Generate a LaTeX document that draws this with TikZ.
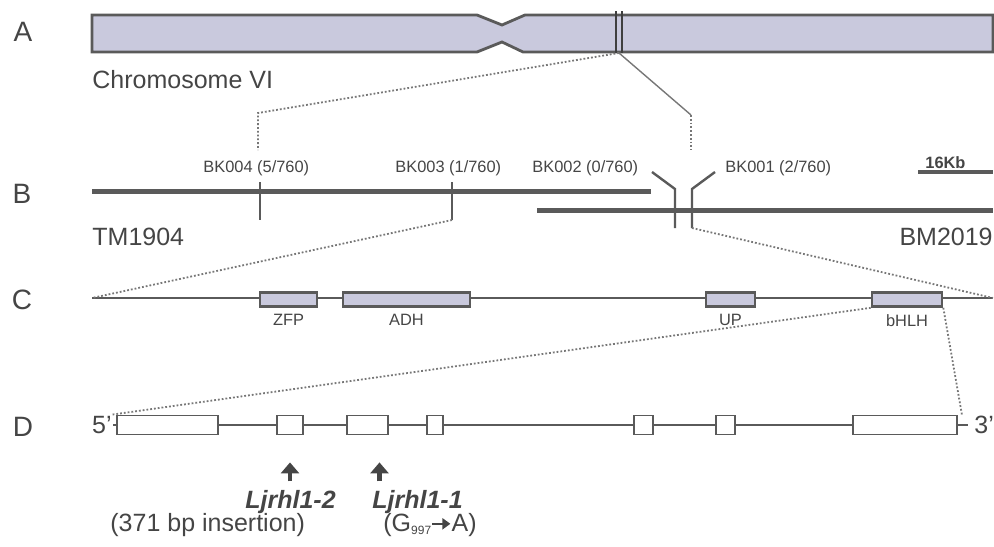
\documentclass[tikz,border=0pt]{standalone}
\usepackage{fontspec}
\setmainfont{Liberation Sans}
\usetikzlibrary{arrows.meta,positioning}
\definecolor{ink}{HTML}{454545}
\definecolor{linegray}{HTML}{5A5A5A}
\definecolor{chromfill}{HTML}{C9C9DD}
\definecolor{zoomgray}{HTML}{777777}

\begin{document}
\begin{tikzpicture}[x=0.5pt, y=-0.5pt,
  panel/.style={font=\fontsize{14}{16}\selectfont, text=ink},
  big/.style={font=\fontsize{12.5}{15}\selectfont, text=ink, inner sep=0pt},
  small/.style={font=\fontsize{8.2}{10}\selectfont, text=ink, inner sep=0pt},
  gene/.style={draw=linegray, fill=chromfill, line width=1.3pt, minimum height=7pt, inner sep=0pt},
  exon/.style={draw=linegray, fill=white, line width=0.9pt, minimum height=9.5pt, inner sep=0pt},
  tick/.style={linegray, line width=1.2pt},
  zoomline/.style={zoomgray, densely dotted, line width=0.9pt},
  mutarrow/.style={ink, line width=2.4pt, -{Triangle[width=9pt,length=5.5pt]}}]
\useasboundingbox (0,0) rectangle (994,546);
% panel letters
\node[panel] (pA) at (23,32) {A};
\node[panel] (pB) at (22,194) {B};
\node[panel] (pC) at (22,300) {C};
\node[panel] (pD) at (23,427) {D};
% A: chromosome
\draw[linegray, line width=1.4pt, fill=chromfill] (92,15) -- (477,15) -- (502,25) -- (525,15) -- (993,15)
  -- (993,52) -- (523,52) -- (502,42) -- (477,52) -- (92,52) -- cycle;
\draw[linegray!70!black, line width=1.2pt] (616,11) -- (616,53) (622,11) -- (622,53);
\coordinate (band) at (619,53);
\node[big, anchor=base west] (chr) at (92,88) {Chromosome VI};
% B: BAC contigs and markers
\draw[linegray, line width=2.5pt] (92,191) -- (651,191);
\draw[linegray, line width=2.5pt] (537,210) -- (993,210);
\node[big, anchor=base west] (tm) at (92,245) {TM1904};
\node[big, anchor=base east] (bm) at (993,245) {BM2019};
\node[small, anchor=base west] (bk4) at (203,172) {BK004 (5/760)};
\node[small, anchor=base west] (bk3) at (395,172) {BK003 (1/760)};
\node[small, anchor=base west] (bk2) at (532,172) {BK002 (0/760)};
\node[small, anchor=base west] (bk1) at (725,172) {BK001 (2/760)};
\draw[tick] (260,182) -- (260,220) coordinate (m4);
\draw[tick] (452,182) -- (452,220) coordinate (m3);
\draw[tick] (652,172) -- (675,189) -- (675,228) coordinate (m2);
\draw[tick] (715,172) -- (692,189) -- (692,228) coordinate (m1);
\node[small, font=\fontsize{8.2}{10}\selectfont\bfseries, anchor=base west] (kb) at (925,168) {16Kb};
\draw[linegray, line width=2pt] (918,172) -- (993,172);
% A -> B
\coordinate (zl) at (258,113);
\coordinate (zr) at (691,115);
\draw[zoomline] (band) -- (zl) -- (258,150);
\draw[zoomgray, line width=0.7pt] (band) -- (zr);
\draw[zoomline] (zr) -- (691,150);
% C: genes in the interval
\coordinate (cL) at (92,298);
\coordinate (cR) at (993,298);
\draw[linegray, line width=0.9pt] (cL) -- (cR);
\node[gene, minimum width=28.5pt] (zfp) at (288.5,299.5) {};
\node[gene, minimum width=63.5pt] (adh) at (406.5,299.5) {};
\node[gene, minimum width=24.5pt] (up) at (730.5,299.5) {};
\node[gene, minimum width=35pt] (bhlh) at (907,299.5) {};
\foreach \g/\t in {zfp/ZFP, adh/ADH, up/UP, bhlh/bHLH}
  \node[small, below=3pt of \g] (\g lbl) {\t};
\draw[zoomline] (m3) -- (cL);
\draw[zoomline] (m1) -- (cR);
% D: gene structure
\draw[linegray, line width=0.9pt] (113,425) -- (968,425);
\node[exon, minimum width=50.5pt] (e1) at (167.5,425) {};
\node[exon, minimum width=13pt] (e2) at (290,425) {};
\node[exon, minimum width=20.5pt] (e3) at (367.5,425) {};
\node[exon, minimum width=8pt] (e4) at (435,425) {};
\node[exon, minimum width=9.5pt] (e5) at (643.5,425) {};
\node[exon, minimum width=9.5pt] (e6) at (725.5,425) {};
\node[exon, minimum width=52pt] (e7) at (905,425) {};
\node[big, anchor=base east] (five) at (112,433) {5'};
\node[big, anchor=base west] (three) at (974,433) {3'};
\draw[zoomline] (bhlh.south west) -- ([xshift=-2pt]e1.north west);
\draw[zoomline] (bhlh.south east) -- ([xshift=2pt]e7.north east);
% mutations
\draw[mutarrow] ([yshift=-23pt]e2.south) -- ([yshift=-13.5pt]e2.south);
\draw[mutarrow] ([xshift=6pt, yshift=-23pt]e3.south) -- ([xshift=6pt, yshift=-13.5pt]e3.south);
\node[big, font=\fontsize{12.5}{15}\selectfont\bfseries\itshape, anchor=base west] (lj2) at (245,508) {Ljrhl1-2};
\node[big, font=\fontsize{12.5}{15}\selectfont\bfseries\itshape, anchor=base west] (lj1) at (372,508) {Ljrhl1-1};
\node[big, anchor=base west] (ins) at (110,531) {(371 bp insertion)};
\node[big, anchor=base west] (sub) at (383,531) {(G{\fontsize{6}{7}\selectfont\raisebox{-1.8pt}{997}}\tikz[baseline]\draw[ink, line width=1.2pt, -{Triangle[width=5.5pt,length=4pt]}] (0.5pt,3.6pt) -- (9.5pt,3.6pt);A)};
\end{tikzpicture}
\end{document}
